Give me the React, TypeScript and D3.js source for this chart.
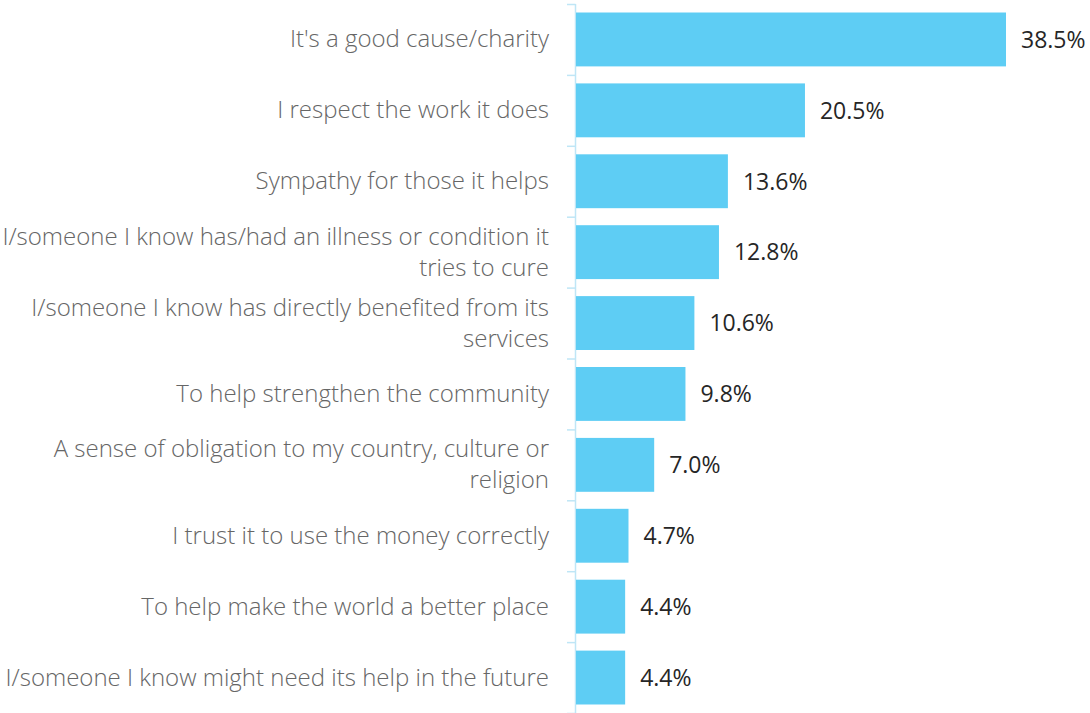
import { useEffect, useRef } from 'react';
import * as d3 from 'd3';

// Reasons for giving, share of respondents (%)
const categories: string[][] = [
    ["It's a good cause/charity"],
    ["I respect the work it does"],
    ["Sympathy for those it helps"],
    ["I/someone I know has/had an illness or condition it", "tries to cure"],
    ["I/someone I know has directly benefited from its", "services"],
    ["To help strengthen the community"],
    ["A sense of obligation to my country, culture or", "religion"],
    ["I trust it to use the money correctly"],
    ["To help make the world a better place"],
    ["I/someone I know might need its help in the future"],
];
const values = [38.5, 20.5, 13.6, 12.8, 10.6, 9.8, 7.0, 4.7, 4.4, 4.4];

const WIDTH = 1090;
const HEIGHT = 713;

export default function App() {
    const svgRef = useRef<SVGSVGElement>(null);

    useEffect(() => {
        if (!svgRef.current) return;
        const svg = d3.select(svgRef.current);
        svg.selectAll("*").remove();

        const margin = { top: 4, right: 0, bottom: 0, left: 576 };
        const ids = categories.map((_, i) => String(i));

        const x = d3.scaleLinear().domain([0, 38.5]).range([margin.left, 1006]);
        const y = d3.scaleBand().domain(ids).range([margin.top, HEIGHT]).paddingInner(0.24).paddingOuter(0.12);

        const font = "'Open Sans', 'Segoe UI', sans-serif";

        // axis with ticks between categories
        const axis = svg.append("g");
        const step = y.step();
        const top = margin.top;
        axis.append("line")
            .attr("x1", 575.5).attr("x2", 575.5)
            .attr("y1", top).attr("y2", HEIGHT)
            .attr("stroke", "#bfe6f6").attr("stroke-width", 1.5);
        d3.range(categories.length + 1).forEach(i => {
            axis.append("line")
                .attr("x1", 567).attr("x2", 575.5)
                .attr("y1", top + i * step + 0.5).attr("y2", top + i * step + 0.5)
                .attr("stroke", "#bfe6f6").attr("stroke-width", 1.5);
        });

        svg.append("g").selectAll("rect")
            .data(values)
            .join("rect")
            .attr("x", x(0))
            .attr("y", (_, i) => y(ids[i])!)
            .attr("width", d => x(d) - x(0))
            .attr("height", y.bandwidth())
            .attr("fill", "#5ecdf4");

        svg.append("g").selectAll("text")
            .data(values)
            .join("text")
            .attr("x", d => x(d) + 15)
            .attr("y", (_, i) => y(ids[i])! + y.bandwidth() / 2)
            .attr("dy", "0.36em")
            .attr("font-family", font)
            .attr("font-size", 23)
            .attr("fill", "#262626")
            .text(d => `${d.toFixed(1)}%`);

        const labels = svg.append("g").selectAll("text")
            .data(categories)
            .join("text")
            .attr("x", 549)
            .attr("y", (_, i) => y(ids[i])! + y.bandwidth() / 2)
            .attr("text-anchor", "end")
            .attr("font-family", font)
            .attr("font-weight", 300)
            .attr("font-size", 24)
            .attr("fill", "#666");
        labels.each(function (lines) {
            const t = d3.select(this);
            const lh = 31;
            const start = -((lines.length - 1) * lh) / 2;
            lines.forEach((ln, j) => {
                t.append("tspan")
                    .attr("x", 549)
                    .attr("dy", j === 0 ? start + 8 : lh)
                    .text(ln);
            });
        });
    }, []);

    return (
        <div>
            <style>{`body{margin:0}`}</style>
            <svg ref={svgRef} width={WIDTH} height={HEIGHT} style={{ display: 'block' }} />
        </div>
    );
}
